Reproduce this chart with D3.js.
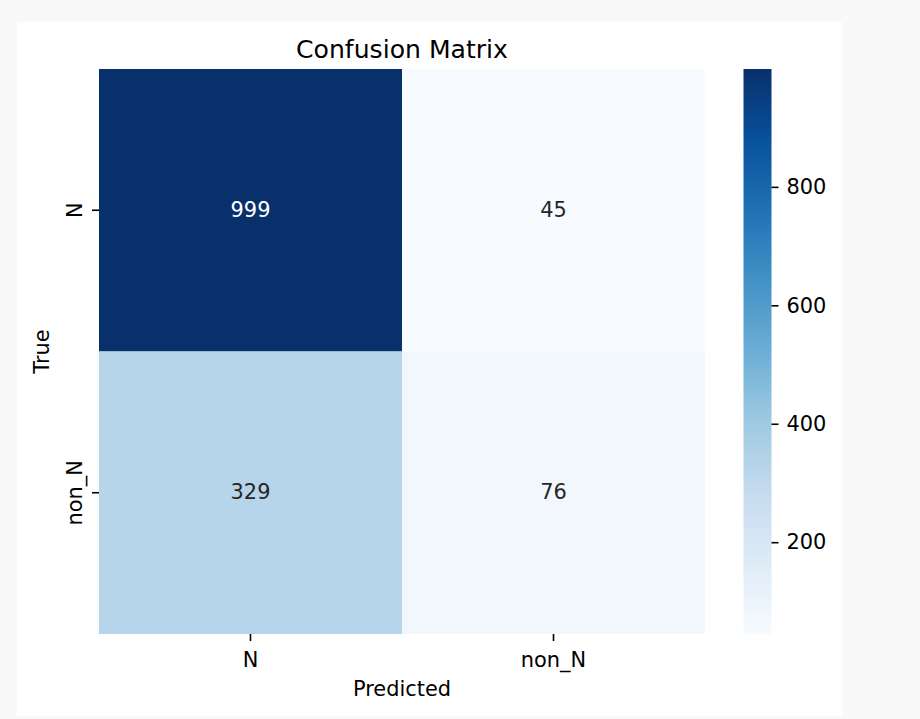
<!DOCTYPE html>
<html>
<head>
<meta charset="utf-8">
<script src="https://cdn.jsdelivr.net/npm/d3@7"></script>
<style>
  body { margin: 0; background: #f9f9f9; }
  svg { display: block; font-family: "DejaVu Sans", sans-serif; }
</style>
</head>
<body>
<div id="chart"></div>
<script>
// class labels (same for true and predicted)
const labels = ["N", "non_N"];
// counts per true class, in predicted order
const trueN = [999, 45];
const trueNonN = [329, 76];
const colorbarTicks = [200, 400, 600, 800];
// matplotlib "Blues" anchor colours
const bluesStops = ["#f7fbff", "#deebf7", "#c6dbef", "#9ecae1", "#6baed6",
                    "#4292c6", "#2171b5", "#08519c", "#08306b"];

const rows = [trueN, trueNonN];
const cells = [];
rows.forEach((r, i) => r.forEach((v, j) => cells.push({ t: labels[i], p: labels[j], v: v })));

const W = 920, H = 719;
const fs = "20.9px";      // tick / label font size
const svg = d3.select("#chart").append("svg")
  .attr("width", W)
  .attr("height", H);

// figure panel
svg.append("rect")
  .attr("x", 17).attr("y", 22)
  .attr("width", 825).attr("height", 694)
  .attr("fill", "#ffffff");

// heatmap area
const plot = { left: 99, right: 705, top: 69, bottom: 634 };

const x = d3.scaleBand().domain(labels).range([plot.left, plot.right]);
const y = d3.scaleBand().domain(labels).range([plot.top, plot.bottom]);

const vmin = d3.min(cells, d => d.v), vmax = d3.max(cells, d => d.v);
const blues = d3.piecewise(d3.interpolateRgb, bluesStops);
const color = v => blues((v - vmin) / (vmax - vmin));

svg.append("g").selectAll("rect")
  .data(cells)
  .join("rect")
    .attr("x", d => x(d.p))
    .attr("y", d => y(d.t))
    .attr("width", x.bandwidth())
    .attr("height", y.bandwidth())
    .attr("fill", d => color(d.v));

// annotations, white on dark cells like seaborn does
function lum(c) {
  const rgb = d3.rgb(c);
  const f = u => { u /= 255; return u <= 0.03928 ? u / 12.92 : Math.pow((u + 0.055) / 1.055, 2.4); };
  return 0.2126 * f(rgb.r) + 0.7152 * f(rgb.g) + 0.0722 * f(rgb.b);
}
svg.append("g").selectAll("text")
  .data(cells)
  .join("text")
    .attr("x", d => x(d.p) + x.bandwidth() / 2)
    .attr("y", d => y(d.t) + y.bandwidth() / 2)
    .attr("dy", "0.3em")
    .attr("text-anchor", "middle")
    .attr("font-size", fs)
    .attr("fill", d => lum(color(d.v)) > 0.408 ? "#262626" : "#ffffff")
    .text(d => d.v);

// x axis
const xAxis = svg.append("g")
  .attr("transform", "translate(0," + plot.bottom + ")")
  .call(d3.axisBottom(x).tickSize(7).tickPadding(11));
xAxis.select(".domain").remove();
xAxis.selectAll("line").attr("stroke", "#000").attr("stroke-width", 1.6);
xAxis.selectAll("text").attr("font-size", fs).attr("fill", "#000")
  .attr("font-family", "DejaVu Sans");

// y axis, labels rotated
const yAxis = svg.append("g")
  .attr("transform", "translate(" + plot.left + ",0)")
  .call(d3.axisLeft(y).tickSize(7));
yAxis.select(".domain").remove();
yAxis.selectAll("line").attr("stroke", "#000").attr("stroke-width", 1.6);
yAxis.selectAll("text")
  .attr("x", null).attr("dy", null)
  .attr("transform", "translate(-17,0) rotate(-90)")
  .attr("text-anchor", "middle")
  .attr("font-size", fs).attr("fill", "#000")
  .attr("font-family", "DejaVu Sans");

// titles
svg.append("text")
  .attr("x", (plot.left + plot.right) / 2).attr("y", 57.5)
  .attr("text-anchor", "middle").attr("font-size", "25.1px")
  .text("Confusion Matrix");

svg.append("text")
  .attr("x", (plot.left + plot.right) / 2).attr("y", 696)
  .attr("text-anchor", "middle").attr("font-size", fs)
  .text("Predicted");

svg.append("text")
  .attr("transform", "translate(49," + (plot.top + plot.bottom) / 2 + ") rotate(-90)")
  .attr("text-anchor", "middle").attr("font-size", fs)
  .text("True");

// colorbar
const cb = { left: 743.5, width: 28 };
const defs = svg.append("defs");
const grad = defs.append("linearGradient")
  .attr("id", "cbgrad")
  .attr("x1", 0).attr("y1", 1).attr("x2", 0).attr("y2", 0);
grad.selectAll("stop")
  .data(bluesStops)
  .join("stop")
    .attr("offset", (d, i) => (i / (bluesStops.length - 1) * 100) + "%")
    .attr("stop-color", d => d);

svg.append("rect")
  .attr("x", cb.left).attr("y", plot.top)
  .attr("width", cb.width).attr("height", plot.bottom - plot.top)
  .attr("fill", "url(#cbgrad)");

const cbScale = d3.scaleLinear().domain([vmin, vmax]).range([plot.bottom, plot.top]);
const cbAxis = svg.append("g")
  .attr("transform", "translate(" + (cb.left + cb.width) + ",0)")
  .call(d3.axisRight(cbScale).tickValues(colorbarTicks).tickSize(7).tickPadding(8));
cbAxis.select(".domain").remove();
cbAxis.selectAll("line").attr("stroke", "#000").attr("stroke-width", 1.6);
cbAxis.selectAll("text").attr("font-size", fs).attr("fill", "#000")
  .attr("font-family", "DejaVu Sans");
</script>
</body>
</html>
